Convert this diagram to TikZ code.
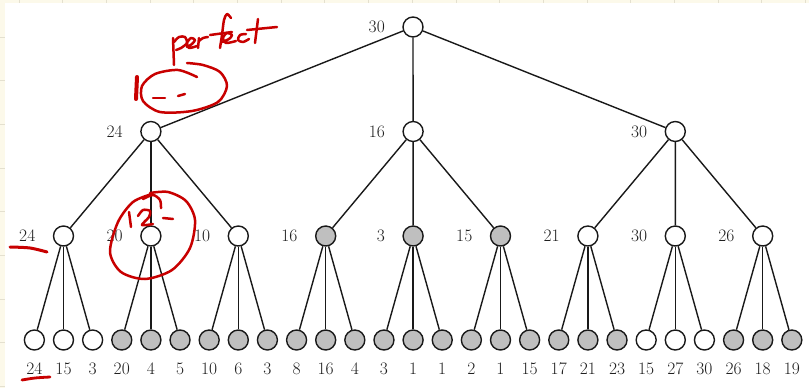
\documentclass[tikz,border=0pt]{standalone}
\usetikzlibrary{calc}
\definecolor{paper}{HTML}{FCF9EA}
\definecolor{gridline}{HTML}{E4E0CF}
\definecolor{pen}{HTML}{C80000}
\definecolor{leafgray}{HTML}{BFBFBF}
\begin{document}
\begin{tikzpicture}[x=1pt,y=-1pt,
  vtx/.style={circle,draw=black!90,line width=1.4pt,minimum size=20pt,inner sep=0pt},
  edge/.style={line width=1.4pt,draw=black!90},
  val/.style={font=\fontsize{17.5}{20}\selectfont,inner sep=0pt,text=black!88},
  ink/.style={draw=pen,line width=2.5pt,line cap=round,line join=round}]
\useasboundingbox (0,0) rectangle (809,388);
% notebook paper behind the white sheet
\fill[paper] (0,0) rectangle (809,388);
\foreach \i in {0,...,18} \draw[gridline,line width=1pt] ({19+43.7*\i},0) -- ++(0,3);
\foreach \i in {0,...,8} \draw[gridline,line width=1pt] (0,{37+43.7*\i}) -- ++(5,0);
\fill[white] (5,3) rectangle (809,388);

% root
\node[vtx,fill=white] (r) at (413,27) {};
\node[val,anchor=east] (r-lab) at (385,27) {30};

% first level
\foreach \v [count=\k from 0] in {24,16,30} {
  \pgfmathsetmacro\xx{150.9+262.2*\k}
  \node[vtx,fill=white] (a\k) at (\xx,131.5) {};
  \node[val,anchor=east] (a\k-lab) at (\xx-28,131.5) {\v};
  \draw[edge] (r) -- (a\k);
}

% second level
\foreach \v [count=\k from 0] in {24,20,10,16,3,15,21,30,26} {
  \pgfmathsetmacro\xx{63.5+87.4*\k}
  \pgfmathtruncatemacro\p{\k/3}
  \ifnum\p=1 \def\fc{leafgray}\else\def\fc{white}\fi
  \node[vtx,fill=\fc] (m\k) at (\xx,236) {};
  \node[val,anchor=east] (m\k-lab) at (\xx-28,236) {\v};
  \draw[edge] (a\p) -- (m\k);
}

% leaves
\foreach \v [count=\k from 0] in {24,15,3,20,4,5,10,6,3,8,16,4,3,1,1,2,1,15,17,21,23,15,27,30,26,18,19} {
  \pgfmathtruncatemacro\p{\k/3}
  \pgfmathsetmacro\xx{63.5+87.4*\p+29.13*(mod(\k,3)-1)}
  \def\fc{leafgray}
  \ifnum\p=0 \def\fc{white}\fi
  \ifnum\p=7 \def\fc{white}\fi
  \node[vtx,fill=\fc] (l\k) at (\xx,340) {};
  \node[val] (l\k-lab) at (\xx,369) {\v};
  \draw[edge] (m\p) -- (l\k);
}

% handwritten remarks
% "perfect"
\draw[ink] (173,38) -- (174,65);
\draw[ink] plot[smooth] coordinates {(174,42) (179,37) (185,37) (187,43) (181,48) (176,50)};
\draw[ink] plot[smooth] coordinates {(187,47) (192,44) (195,40) (191,38) (187,43) (189,48) (197,46)};
\draw[ink] (198,48) -- (199,38);
\draw[ink] plot[smooth] coordinates {(199,41) (203,38) (208,37)};
\draw[ink] plot[smooth] coordinates {(231,18) (227,14) (224,20) (222,35) (220,48)};
\draw[ink] (210,35) -- (232,32);
\draw[ink] plot[smooth] coordinates {(222,42) (229,39) (232,35) (227,33) (223,38) (226,43) (236,41)};
\draw[ink] plot[smooth] coordinates {(246,34) (240,35) (238,40) (243,42) (249,39)};
\draw[ink] (258,19) -- (255,43);
\draw[ink] (247,30) -- (277,27);
% loop with "1 - -"
\draw[ink] plot[smooth] coordinates {(187,63) (203,65) (220,72) (227,86) (218,102) (192,111) (160,112) (143,101) (142,86) (155,74) (178,70) (197,77)};
\draw[ink,line width=4pt] (137,77) -- (136,99);
\draw[ink] (153,98) -- (165,98);
\draw[ink] (178,96) -- (185,94);
% loop with "12-"
\draw[ink] plot[smooth] coordinates {(150,193) (168,192) (186,201) (195,220) (190,248) (172,270) (145,279) (121,272) (110,252) (118,222) (133,202) (152,194)};
\draw[ink] plot[smooth] coordinates {(143,199) (153,195) (160,200) (161,208)};
\draw[ink] (129,212) -- (131,227);
\draw[ink] plot[smooth] coordinates {(138,216) (143,210) (150,211) (149,217) (142,225) (153,224)};
\draw[ink] (163,218) -- (173,219);
% underlines
\draw[ink,line width=3pt] plot[smooth] coordinates {(10,247) (30,248) (47,252)};
\draw[ink,line width=2.8pt] plot[smooth] coordinates {(22,380) (35,378) (50,377)};
\end{tikzpicture}
\end{document}
